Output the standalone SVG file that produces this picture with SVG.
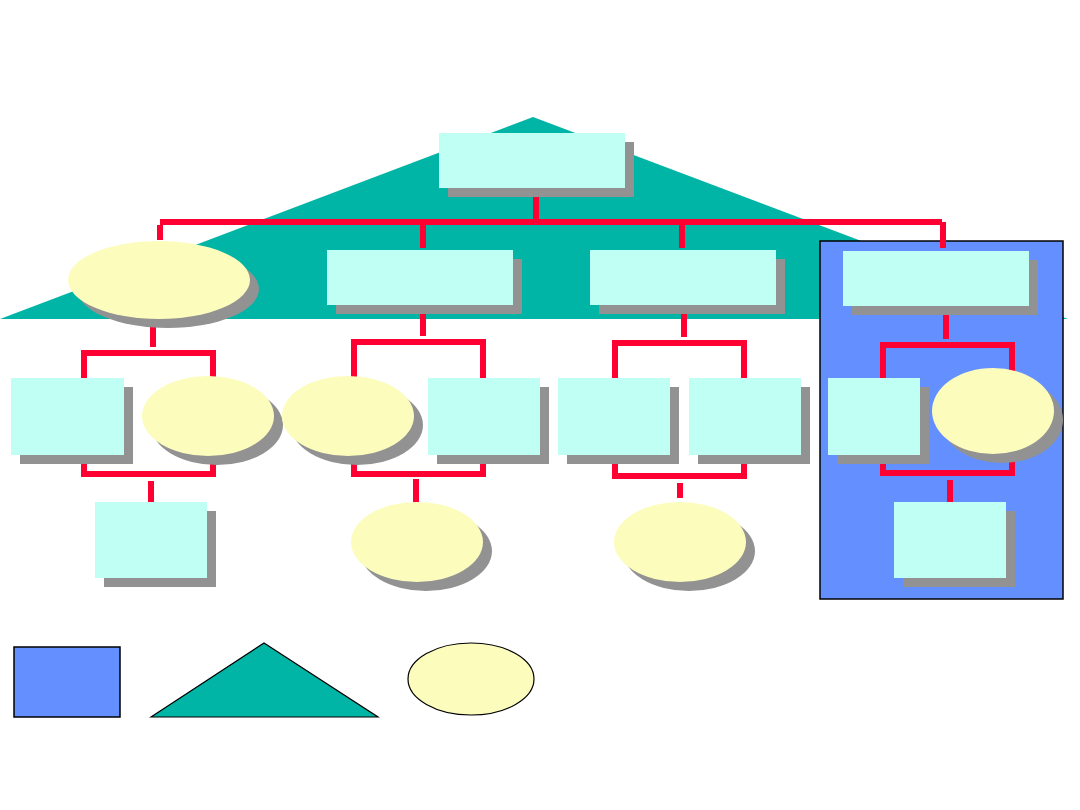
<svg xmlns="http://www.w3.org/2000/svg" width="1080" height="810" viewBox="0 0 1080 810">
<style>
.box{fill:#C0FFF4}
.ell{fill:#FCFCBC}
.sh{fill:#929292}
.con{fill:none;stroke:#FF0033;stroke-width:6;stroke-linecap:butt;stroke-linejoin:miter}
</style>
<rect width="1080" height="810" fill="#FFFFFF"/>
<g id="triangle-bg"><polygon points="0,319 533,117 1068,319" fill="#00B5A5"/></g>
<g id="blue-panel"><rect x="820" y="241" width="243" height="358" fill="#6490FF" stroke="#000" stroke-width="1.5"/></g>
<g id="connectors">
<path class="con" d="M536,193 V222"/>
<path class="con" d="M160,222 H942"/>
<path class="con" d="M160,225 V240"/>
<path class="con" d="M423,222 V248"/>
<path class="con" d="M682,222 V248"/>
<path class="con" d="M943,222 V248"/>
<path class="con" d="M153,321 V347"/>
<path class="con" d="M84,380 V353 H213 V380"/>
<path class="con" d="M84,455 V474 H213 V455"/>
<path class="con" d="M151,481 V502"/>
<path class="con" d="M423,310 V336"/>
<path class="con" d="M354,380 V342 H483 V380"/>
<path class="con" d="M354,455 V474 H483 V455"/>
<path class="con" d="M416,479 V502"/>
<path class="con" d="M684,312 V337"/>
<path class="con" d="M615,380 V343 H744 V380"/>
<path class="con" d="M615,455 V476 H744 V455"/>
<path class="con" d="M680,483 V498"/>
<path class="con" d="M946,312 V339"/>
<path class="con" d="M883,380 V345 H1012 V380"/>
<path class="con" d="M883,455 V473 H1012 V455"/>
<path class="con" d="M950,480 V502"/>
</g>
<g id="top"><rect class="sh" x="448" y="142" width="186" height="55"/><rect class="box" x="439" y="133" width="186" height="55"/></g>
<g id="n1"><ellipse class="sh" cx="168" cy="289" rx="91" ry="39"/><ellipse class="ell" cx="159" cy="280" rx="91" ry="39"/></g>
<g id="n2"><rect class="sh" x="336" y="259" width="186" height="55"/><rect class="box" x="327" y="250" width="186" height="55"/></g>
<g id="n3"><rect class="sh" x="599" y="259" width="186" height="55"/><rect class="box" x="590" y="250" width="186" height="55"/></g>
<g id="n4"><rect class="sh" x="852" y="260" width="186" height="55"/><rect class="box" x="843" y="251" width="186" height="55"/></g>
<g id="n1a"><rect class="sh" x="20" y="387" width="113" height="77"/><rect class="box" x="11" y="378" width="113" height="77"/></g>
<g id="n1b"><ellipse class="sh" cx="217" cy="425" rx="66" ry="40"/><ellipse class="ell" cx="208" cy="416" rx="66" ry="40"/></g>
<g id="n1c"><rect class="sh" x="104" y="511" width="112" height="76"/><rect class="box" x="95" y="502" width="112" height="76"/></g>
<g id="n2a"><ellipse class="sh" cx="357" cy="425" rx="66" ry="40"/><ellipse class="ell" cx="348" cy="416" rx="66" ry="40"/></g>
<g id="n2b"><rect class="sh" x="437" y="387" width="112" height="77"/><rect class="box" x="428" y="378" width="112" height="77"/></g>
<g id="n2c"><ellipse class="sh" cx="426" cy="551" rx="66" ry="40"/><ellipse class="ell" cx="417" cy="542" rx="66" ry="40"/></g>
<g id="n3a"><rect class="sh" x="567" y="387" width="112" height="77"/><rect class="box" x="558" y="378" width="112" height="77"/></g>
<g id="n3b"><rect class="sh" x="698" y="387" width="112" height="77"/><rect class="box" x="689" y="378" width="112" height="77"/></g>
<g id="n3c"><ellipse class="sh" cx="689" cy="551" rx="66" ry="40"/><ellipse class="ell" cx="680" cy="542" rx="66" ry="40"/></g>
<g id="n4a"><rect class="sh" x="837" y="387" width="92" height="77"/><rect class="box" x="828" y="378" width="92" height="77"/></g>
<g id="n4b"><ellipse class="sh" cx="1002" cy="420" rx="61" ry="43"/><ellipse class="ell" cx="993" cy="411" rx="61" ry="43"/></g>
<g id="n4c"><rect class="sh" x="903" y="511" width="112" height="76"/><rect class="box" x="894" y="502" width="112" height="76"/></g>
<g id="legend-rect"><rect x="14" y="647" width="106" height="70" fill="#6490FF" stroke="#000" stroke-width="1.5"/></g>
<g id="legend-tri"><polygon points="151,717 264,643 378,717" fill="#00B5A5" stroke="#000" stroke-width="1.2"/></g>
<g id="legend-ell"><ellipse cx="471" cy="679" rx="63" ry="36" fill="#FCFCBC" stroke="#000" stroke-width="1.2"/></g>
</svg>
